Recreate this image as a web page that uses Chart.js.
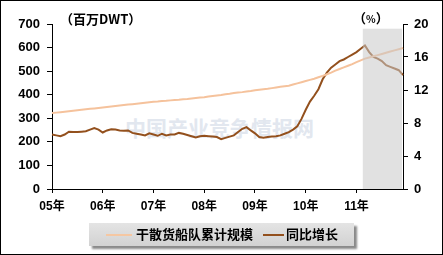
<!DOCTYPE html>
<html><head><meta charset="utf-8">
<script src="https://cdn.jsdelivr.net/npm/chart.js@4/dist/chart.umd.min.js"></script>
<style>
html,body{margin:0;padding:0;background:#fff;}
#wrap{position:relative;width:443px;height:255px;overflow:hidden;font-family:"Liberation Sans","Noto Sans CJK SC",sans-serif;}
#c{position:absolute;left:0;top:0;z-index:2;}
#frame{position:absolute;left:0;top:0;width:443px;height:255px;box-sizing:border-box;border:1px solid #000;z-index:5;pointer-events:none;}
.wm{position:absolute;left:125px;top:112px;font:bold 21px "Noto Sans CJK SC";color:#e2e7ef;z-index:1;white-space:nowrap;}
.t{position:absolute;font:bold 13px "Noto Sans CJK SC";color:#000;z-index:3;white-space:nowrap;}
#legend{position:absolute;left:89px;top:223px;width:265px;height:23px;background:linear-gradient(#e4e4e4,#d2d2d2);box-shadow:3px 3px 2px #8a8a8a;z-index:3;}
.li{position:absolute;top:2px;font:bold 13px "Noto Sans CJK SC";color:#000;white-space:nowrap;line-height:18px;}
.ls{position:absolute;top:11px;height:2px;}
</style></head>
<body>
<div id="wrap">
<div class="wm">中国产业竞争情报网</div>
<canvas id="c" width="443" height="255"></canvas>
<div class="t" style="left:60px;top:9px;">（百万DWT）</div>
<div class="t" style="left:353px;top:8px;">（<span style="font-size:10px">%</span>）</div>
<div id="legend">
  <div class="ls" style="left:17px;width:26px;background:#f5c7a2;"></div>
  <div class="li" style="left:47px;">干散货船队累计规模</div>
  <div class="ls" style="left:174px;width:21px;background:#93501d;"></div>
  <div class="li" style="left:197px;">同比增长</div>
</div>
<div id="frame"></div>
</div>
<script>
const years = ['05','06','07','08','09','10','11'];
const fleetSize = [322,324,326,328,330,332,334,336,338,340,342,344,346,
 348,350,352,354,356,358,360,362,364,366,368,370,
 371,373,374,376,378,379,381,382,384,386,388,389,
 392,395,397,399,402,404,407,409,411,414,416,419,
 421,423,425,428,431,434,436,438,443,448,453,458,
 463,468,474,480,487,494,502,509,516,523,530,538,
 546,553,558,563,568,573,578,583,588,593,598];
const yoyGrowth = [6.6,6.5,6.4,6.6,6.95,6.9,6.9,6.95,7.0,7.2,7.4,7.2,
 6.85,7.1,7.25,7.2,7.1,7.05,7.1,6.8,6.7,6.6,6.5,6.75,
 6.6,6.45,6.7,6.5,6.6,6.6,6.8,6.7,6.55,6.4,6.25,6.4,
 6.45,6.4,6.35,6.3,6.05,6.2,6.35,6.5,6.9,7.3,7.5,7.1,
 6.75,6.3,6.2,6.3,6.35,6.4,6.5,6.7,6.9,7.2,7.6,8.5,
 9.6,10.6,11.3,12.1,13.3,14.1,14.7,15.1,15.5,15.7,16.0,16.3,
 16.6,17.0,17.4,16.6,16.0,15.8,15.5,15.0,14.8,14.6,14.4,13.8];
const shadeStart = 73.5;   // forecast shading start (month index)
const shadeTop = 680;      // on left axis

const categories = [];
years.forEach(y => { for (let m = 1; m <= 12; m++) categories.push(y + '-' + m); });

const FONT = {family:'"Liberation Sans","Noto Sans CJK SC",sans-serif', size:13, weight:'bold'};

const shadePlugin = {
  id:'shade',
  afterDatasetsDraw(chart){
    const {ctx, chartArea, scales} = chart;
    const x0 = scales.x.getPixelForValue(shadeStart);
    const y0 = scales.y.getPixelForValue(shadeTop);
    ctx.save();
    ctx.fillStyle = 'rgba(200,200,200,0.55)';
    ctx.fillRect(x0, y0, chartArea.right - 1 - x0, chartArea.bottom - y0);
    ctx.restore();
  }
};

new Chart(document.getElementById('c'), {
  type:'line',
  data:{
    labels: categories,
    datasets:[
      {label:'干散货船队累计规模', data: fleetSize, yAxisID:'y', borderColor:'#f5c29c', borderWidth:2, pointRadius:0, tension:0},
      {label:'同比增长', data: yoyGrowth, yAxisID:'y2', borderColor:'#93501d', borderWidth:2, pointRadius:0, tension:0}
    ]
  },
  options:{
    responsive:false, animation:false,
    layout:{padding:{top:24,left:0,right:0,bottom:0}},
    plugins:{legend:{display:false}, tooltip:{enabled:false}},
    scales:{
      x:{
        offset:false,
        grid:{display:true, drawOnChartArea:false, drawTicks:true, tickLength:4,
              color:(c)=> (c.index % 12 === 0 ? '#000' : 'rgba(0,0,0,0)')},
        border:{display:true, color:'#000', width:1},
        ticks:{autoSkip:false, maxRotation:0, padding:6, color:'#000', font:{...FONT, size:12},
               callback:(v,i)=> (i % 12 === 0 ? years[i/12] + '年' : '')},
        afterFit:(s)=>{ s.height = 66; }
      },
      y:{
        position:'left', min:0, max:700,
        grid:{display:true, drawOnChartArea:false, tickLength:5, color:'#000'},
        border:{display:true, color:'#000', width:1},
        ticks:{stepSize:100, padding:7, color:'#000', font:FONT},
        afterFit:(s)=>{ s.width = 52; }
      },
      y2:{
        position:'right', min:0, max:20,
        grid:{display:true, drawOnChartArea:false, tickLength:5, color:'#000'},
        border:{display:true, color:'#000', width:1},
        ticks:{stepSize:4, padding:6, color:'#000', font:FONT},
        afterFit:(s)=>{ s.width = 40; }
      }
    }
  },
  plugins:[shadePlugin]
});
</script>
</body></html>
